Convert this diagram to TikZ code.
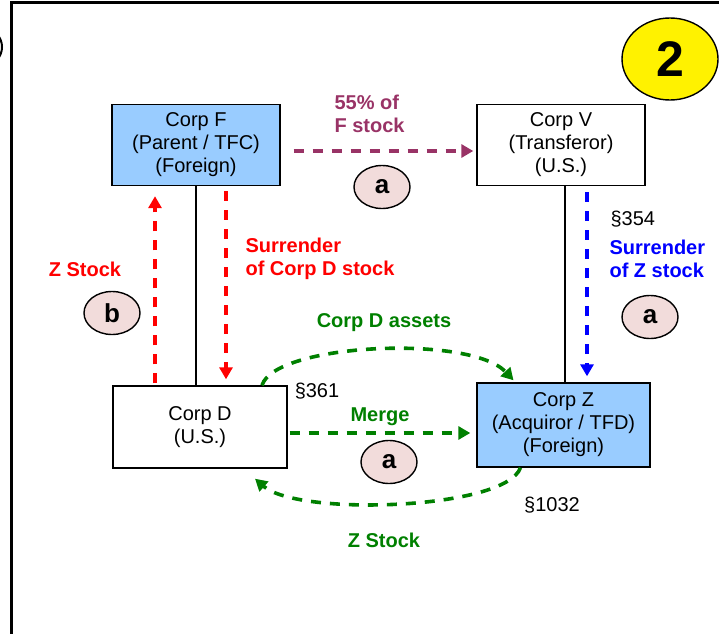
\documentclass[tikz,border=0pt]{standalone}
\usepackage{fontspec}
\setmainfont{Liberation Sans}
\usetikzlibrary{arrows.meta,shapes.geometric}
\definecolor{boxblue}{HTML}{99CCFF}
\definecolor{tagpink}{HTML}{F2DCDB}
\definecolor{stockpurple}{HTML}{993366}
\definecolor{assetgreen}{HTML}{008000}
\begin{document}
\begin{tikzpicture}[x=1pt, y=-1pt,
    every node/.style={font=\fontsize{20}{23}\selectfont},
    corp/.style={draw=black, line width=1.4pt, minimum width=168pt,%
    minimum height=81pt, align=center, inner sep=0pt},
    foreign/.style={corp, fill=boxblue},
    tag/.style={ellipse, draw=black, line width=1.4pt, fill=tagpink,%
    minimum width=56pt, minimum height=43pt, inner sep=0pt,%
    font=\fontsize{26}{26}\selectfont\bfseries},
    flow/.style={dash pattern=on 10pt off 9pt, line width=3.6pt,%
    -{Triangle[length=12pt,width=13pt]}},
    lbl/.style={font=\fontsize{20}{23}\selectfont\bfseries, align=left}]
    \pgfmathsetmacro{\linkw}{1.4}
    \useasboundingbox (0,0) rectangle (719,634);
    \draw[line width=3pt] (719,3)--(11,3)--(11,634);
    \draw[line width=2pt] (-13,47) ellipse (15 and 17);
    \node[ellipse, draw=black, line width=1.4pt, fill=yellow, minimum width=96pt,%
    minimum height=82pt, font=\fontsize{50}{50}\selectfont\bfseries] (step2) at (670,59) {2};
    \node[foreign] (cf) at (196,145) {Corp F\\(Parent / TFC)\\(Foreign)};
    \node[corp] (cv) at (561,145) {Corp V\\(Transferor)\\(U.S.)};
    \node[corp, minimum width=174pt, minimum height=82pt] (cd) at (200,427) {Corp D\\(U.S.)};
    \node[foreign, minimum width=173pt, minimum height=84pt] (cz) at (563.5,425)%
    {Corp Z\\(Acquiror / TFD)\\(Foreign)};
    \draw[line width=\linkw pt] (cf.south)--(cf.south |- cd.north);
    \draw[line width=\linkw pt] ([xshift=4pt]cv.south)--([xshift=4pt]cv.south |- cz.north);
    \draw[flow, stockpurple, shorten <=13pt, shorten >=3pt]%
    ([yshift=-6pt]cf.east)--([yshift=-6pt]cf.east -| cv.west);
    \draw[flow, red, shorten <=2pt, shorten >=10pt]%
    ([xshift=-41pt]cf.south |- cd.north)--([xshift=-41pt]cf.south);
    \draw[flow, red, shorten <=5pt, shorten >=6pt]%
    ([xshift=30pt]cf.south)--([xshift=30pt]cf.south |- cd.north);
    \draw[flow, blue, shorten <=6pt, shorten >=6pt]%
    ([xshift=26pt]cv.south)--([xshift=26pt]cv.south |- cz.north);
    \draw[flow, assetgreen, shorten <=2pt, shorten >=6pt]%
    ([yshift=-6pt]cd.east)--([yshift=-6pt]cd.east -| cz.west);
    \draw[flow, assetgreen] ([xshift=62pt]cd.north) .. controls +(13,-42)%
    and +(-43,-46) .. ([xshift=-50pt,yshift=2pt]cz.north);
    \draw[flow, assetgreen] ([xshift=-43pt]cz.south) .. controls +(-15,42)%
    and +(43,38) .. ([xshift=55pt,yshift=-10pt]cd.south);
    \node[lbl, stockpurple, anchor=west] (sharelbl) at (331,114) {55\% of\\F stock};
    \node[lbl, red, anchor=west] (surrdlbl) at (242,259) {Surrender\\of Corp D stock};
    \node[lbl, red] (zstockred) at (85,269) {Z Stock};
    \node[lbl, blue, anchor=west] (surrzlbl) at (606,259) {Surrender\\of Z stock};
    \node[anchor=west] (sec354) at (607,219) {§354};
    \node[lbl, assetgreen] (assetlbl) at (384,323) {Corp D assets};
    \node (sec361) at (317,391) {§361};
    \node[lbl, assetgreen] (mergelbl) at (380,417) {Merge};
    \node (sec1032) at (552,505) {§1032};
    \node[lbl, assetgreen] (zstockgreen) at (384,540) {Z Stock};
    \node[tag] (taga) at (382,187) {a};
    \node[tag] (tagb) at (112,313) {b};
    \node[tag] (tagc) at (650,317) {a};
    \node[tag] (tagd) at (389,462) {a};
  \end{tikzpicture}
\end{document}
